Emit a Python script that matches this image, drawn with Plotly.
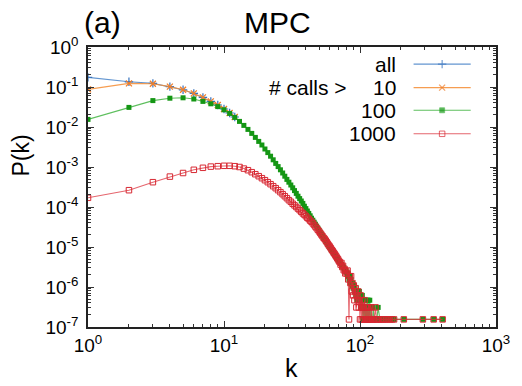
import plotly.graph_objects as go

# ---- degree distributions P(k), stored as log10 values ----------------------
# all callers (beyond k = 12 the curve runs under the "> 100" series)
k_all = list(range(1, 13))
logp_all = [-0.76, -0.87, -0.91, -0.99, -1.07, -1.16, -1.26, -1.36, -1.45, -1.55,
            -1.65, -1.75]

# callers with more than 10 calls
k_10 = list(range(1, 13))
logp_10 = [-1.06, -0.91, -0.92, -0.99, -1.07, -1.16, -1.26, -1.36, -1.45, -1.55,
           -1.65, -1.75]

# callers with more than 100 calls
k_100 = list(range(1, 121)) + [122, 124, 125, 127, 130, 133, 136, 140, 145, 150,
                               157, 163, 170, 178, 210, 290, 348, 405]
logp_100 = [-1.81, -1.51, -1.34, -1.28, -1.27, -1.30, -1.36, -1.42, -1.49, -1.57,
            -1.66, -1.76, -1.86, -1.96, -2.06, -2.16, -2.26, -2.36, -2.45, -2.55,
            -2.64, -2.73, -2.82, -2.91, -2.99, -3.07, -3.15, -3.23, -3.31, -3.38,
            -3.45, -3.52, -3.59, -3.66, -3.73, -3.79, -3.85, -3.91, -3.98, -4.04,
            -4.10, -4.16, -4.22, -4.28, -4.33, -4.38, -4.43, -4.48, -4.53, -4.58,
            -4.63, -4.68, -4.72, -4.77, -4.81, -4.85, -4.89, -4.93, -4.97, -5.01,
            -5.05, -5.08, -5.12, -5.16, -5.19, -5.22, -5.25, -5.29, -5.32, -5.35,
            -5.37, -5.41, -5.43, -5.47, -5.50, -5.51, -5.56, -5.57, -5.62, -5.63,
            -5.73, -5.66, -5.81, -5.73, -5.90, -5.81, -5.96, -5.90, -6.03, -5.96,
            -6.11, -6.03, -6.21, -6.11, -6.33, -6.11, -6.21, -6.33, -6.11, -6.21,
            -6.51, -6.33, -6.51, -6.21, -6.81, -6.51, -6.33, -6.81, -6.51, -6.81,
            -6.51, -6.81, -6.33, -6.81, -6.33, -6.81, -6.51, -6.33, -6.81, -6.51,
            -6.81, -6.81, -6.51, -6.81, -6.81, -6.81, -6.51, -6.81, -6.81, -6.81,
            -6.81, -6.81, -6.81, -6.81, -6.81, -6.81, -6.81, -6.81]

# callers with more than 1000 calls
k_1000 = list(range(1, 119)) + [120, 121, 123, 125, 127, 130, 132, 135, 138, 142,
                                146, 150, 155, 160, 166, 172, 178, 210, 290, 348, 405]
logp_1000 = [-3.77, -3.58, -3.38, -3.24, -3.15, -3.07, -3.02, -2.99, -2.98, -2.97,
             -2.97, -2.98, -3.00, -3.04, -3.08, -3.13, -3.18, -3.23, -3.28, -3.33,
             -3.38, -3.43, -3.48, -3.53, -3.58, -3.63, -3.68, -3.73, -3.78, -3.83,
             -3.87, -3.92, -3.96, -4.00, -4.04, -4.08, -4.12, -4.16, -4.19, -4.23,
             -4.27, -4.30, -4.34, -4.37, -4.41, -4.45, -4.49, -4.53, -4.57, -4.61,
             -4.65, -4.69, -4.73, -4.77, -4.80, -4.84, -4.88, -4.92, -4.96, -4.99,
             -5.03, -5.07, -5.10, -5.14, -5.17, -5.21, -5.24, -5.28, -5.31, -5.35,
             -5.38, -5.44, -5.40, -5.50, -5.47, -5.58, -5.55, -5.66, -5.61, -5.66,
             -5.59, -5.81, -6.81, -5.73, -5.90, -5.73, -6.11, -5.90, -6.21, -5.96,
             -6.33, -6.11, -6.03, -6.51, -6.21, -6.33, -6.11, -6.51, -6.33, -6.81,
             -6.21, -6.51, -6.81, -6.33, -6.51, -6.81, -6.51, -6.33, -6.81, -6.51,
             -6.81, -6.51, -6.81, -6.51, -6.81, -6.81, -6.51, -6.81,
             -6.81, -6.51, -6.81, -6.81, -6.81, -6.51, -6.81, -6.81, -6.81, -6.81,
             -6.81, -6.81, -6.81, -6.81, -6.81, -6.81, -6.81, -6.81, -6.81, -6.81,
             -6.81]

legend_labels = ["all", "10", "100", "1000"]
legend_prefix = "# calls >"
x_ticks = [1, 10, 100, 1000]
x_ticktext = ["10<sup>0</sup>", "10<sup>1</sup>", "10<sup>2</sup>", "10<sup>3</sup>"]
y_ticks = [1e0, 1e-1, 1e-2, 1e-3, 1e-4, 1e-5, 1e-6, 1e-7]
y_ticktext = ["10<sup>0</sup>", "10<sup>-1</sup>", "10<sup>-2</sup>", "10<sup>-3</sup>",
              "10<sup>-4</sup>", "10<sup>-5</sup>", "10<sup>-6</sup>", "10<sup>-7</sup>"]

FONT = "Liberation Sans, Arial, Helvetica, sans-serif"

# style per series: (line colour, marker colour, symbol, size, marker outline width)
styles = [
    ("rgba(70,130,200,0.85)", "rgb(55,115,190)", "cross-thin", 6, 1.2),
    ("rgba(245,140,50,0.85)", "rgb(240,125,40)", "x-thin", 6, 1.3),
    ("rgba(40,170,40,0.75)", "rgb(20,150,20)", "square", 5, 0),
    ("rgba(220,50,60,0.75)", "rgb(215,40,50)", "square-open", 5.5, 1.0),
]
series = [(k_all, logp_all), (k_10, logp_10), (k_100, logp_100), (k_1000, logp_1000)]

fig = go.Figure()
for (ks, lps), (lc, mc, sym, size, mlw), name in zip(series, styles, legend_labels):
    marker = dict(symbol=sym, size=size, color=mc)
    if sym.endswith("thin") or sym.endswith("open"):
        marker["line"] = dict(color=mc, width=mlw)
    fig.add_trace(go.Scatter(
        x=ks, y=[10 ** v for v in lps], mode="lines+markers", name=name,
        line=dict(color=lc, width=1.1), marker=marker, showlegend=False,
    ))

# legend keys drawn on an overlay axis spanning the plot area
key_x0, key_x1 = 0.798, 0.938
key_y = [0.939, 0.855, 0.774, 0.690]
for (lc, mc, sym, size, mlw), yk in zip(styles, key_y):
    marker = dict(symbol=sym, size=[0, size, 0], color=mc)
    if sym.endswith("thin") or sym.endswith("open"):
        marker["line"] = dict(color=mc, width=mlw)
    fig.add_trace(go.Scatter(
        x=[key_x0, (key_x0 + key_x1) / 2, key_x1], y=[yk, yk, yk],
        xaxis="x2", yaxis="y2", mode="lines+markers",
        line=dict(color=lc, width=1.1), marker=marker,
        showlegend=False, hoverinfo="skip",
    ))

annotations = []
for label, yk in zip(legend_labels, key_y):
    annotations.append(dict(text=label, x=0.761, y=yk, xref="paper", yref="paper",
                            xanchor="right", yanchor="middle", showarrow=False,
                            font=dict(size=21, color="black", family=FONT)))
annotations.append(dict(text=legend_prefix, x=0.639, y=key_y[1], xref="paper", yref="paper",
                        xanchor="right", yanchor="middle", showarrow=False,
                        font=dict(size=21, color="black", family=FONT)))
annotations += [
    dict(text="MPC", x=0.464, y=1.089, xref="paper", yref="paper", xanchor="center",
         yanchor="middle", showarrow=False, font=dict(size=30, color="black", family=FONT)),
    dict(text="(a)", x=-0.014, y=1.089, xref="paper", yref="paper", xanchor="left",
         yanchor="middle", showarrow=False, font=dict(size=30, color="black", family=FONT)),
    dict(text="P(k)", x=-0.163, y=0.614, xref="paper", yref="paper", xanchor="center",
         yanchor="middle", textangle=-90, showarrow=False,
         font=dict(size=23, color="black", family=FONT)),
    dict(text="k", x=0.498, y=-0.145, xref="paper", yref="paper", xanchor="center",
         yanchor="middle", showarrow=False, font=dict(size=25, color="black", family=FONT)),
]

x_minor = [m * 10 ** d for d in range(0, 3) for m in range(2, 10)]
y_minor = [m * 10.0 ** d for d in range(-7, 0) for m in range(2, 10)]

axis_common = dict(
    type="log", showgrid=False, zeroline=False, showline=True, linecolor="#222",
    linewidth=1.5, mirror="allticks", ticks="inside", ticklen=6, tickwidth=1,
    tickcolor="#333", tickmode="array",
    tickfont=dict(size=19, color="black", family=FONT),
)

fig.update_layout(
    width=522, height=386,
    margin=dict(l=88, r=16, t=47, b=59),
    paper_bgcolor="white", plot_bgcolor="white",
    showlegend=False,
    xaxis=dict(axis_common, range=[0, 3], tickvals=x_ticks, ticktext=x_ticktext,
               ticklabelstandoff=0,
               minor=dict(tickmode="array", tickvals=x_minor, ticks="inside",
                          ticklen=3, tickcolor="#333", showgrid=False)),
    yaxis=dict(axis_common, range=[-7, 0], tickvals=y_ticks, ticktext=y_ticktext,
               ticklabelstandoff=4,
               minor=dict(tickmode="array", tickvals=y_minor, ticks="inside",
                          ticklen=3, tickcolor="#333", showgrid=False)),
    xaxis2=dict(overlaying="x", range=[0, 1], visible=False, fixedrange=True),
    yaxis2=dict(overlaying="y", range=[0, 1], visible=False, fixedrange=True),
    annotations=annotations,
)

fig.write_html("out.html")
